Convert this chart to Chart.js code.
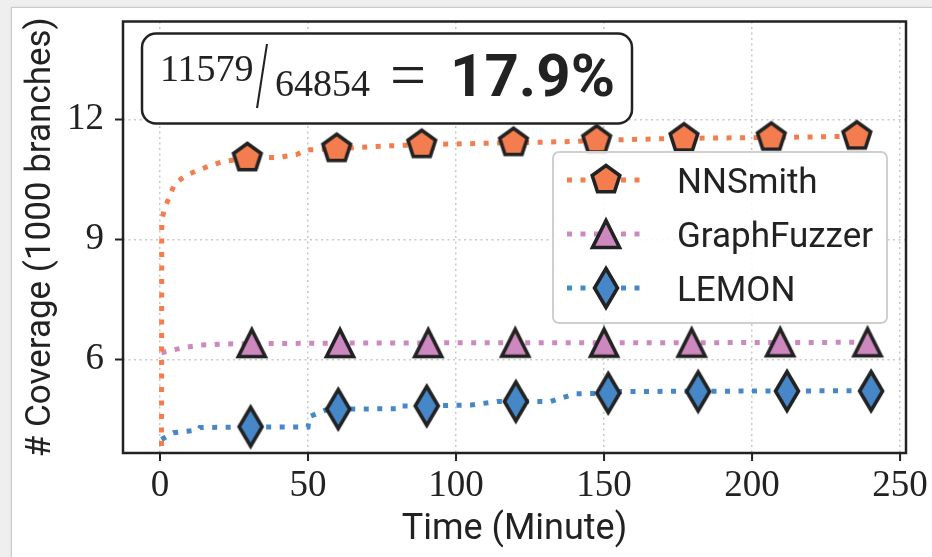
<!DOCTYPE html>
<html>
<head>
<meta charset="utf-8">
<script src="https://cdn.jsdelivr.net/npm/chart.js@4.4.1/dist/chart.umd.min.js"></script>
<style>
  html, body { margin: 0; padding: 0; }
  body { width: 932px; height: 557px; background: #efefef; position: relative; overflow: hidden; }
  .panel { position: absolute; left: 11px; top: 7px; right: -2px; bottom: -2px; background: #fff; border: 1px solid #c9c9c9; box-shadow: 0 0 3px rgba(0,0,0,0.08); }
  .wrap { position: absolute; left: 0; top: 0; width: 932px; height: 557px; }
</style>
</head>
<body>
<div class="panel"></div>
<div class="wrap"><canvas id="chart" width="932" height="557"></canvas></div>
<script>
// Series names / colours
const seriesNames = ['NNSmith', 'GraphFuzzer', 'LEMON'];
const seriesColors = ['#f47d4f', '#cd89bf', '#4687c7'];

// Coverage curves (time in minutes, coverage in 1000 branches)
const nnsmithTime = [0.5, 0.6, 1.7, 3.4, 5, 9, 13, 17.5, 21.4, 29.5, 39.4, 46, 49.5, 59.7, 76.6, 88.4, 119.4, 140, 147.5, 177, 206.5, 235.4, 240];
const nnsmithCov  = [3.5, 9.5, 9.8, 10.11, 10.4, 10.61, 10.74, 10.86, 10.95, 11.04, 11.05, 11.12, 11.24, 11.27, 11.34, 11.37, 11.42, 11.45, 11.48, 11.53, 11.55, 11.58, 11.579];
const nnsmithMarkTime = [29.5, 59.7, 88.4, 119.4, 147.5, 177, 206.5, 235.4];
const nnsmithMarkCov  = [11.04, 11.27, 11.37, 11.42, 11.48, 11.53, 11.55, 11.58];

const graphfuzzerTime = [0.5, 4.5, 9, 13.5, 22.5, 60, 120, 180, 239];
const graphfuzzerCov  = [6.17, 6.24, 6.31, 6.36, 6.39, 6.41, 6.42, 6.42, 6.43];
const graphfuzzerMarkTime = [31, 60.8, 90.6, 120, 150, 179.6, 209.5, 239];
const graphfuzzerMarkCov  = [6.41, 6.41, 6.41, 6.42, 6.42, 6.42, 6.43, 6.43];

const lemonTime = [0.5, 4.5, 13, 13.5, 30.6, 50, 50.5, 56, 60.2, 81, 81.5, 90.1, 105, 114, 120.2, 132, 135.7, 140, 151.4, 155, 241];
const lemonCov  = [4.0, 4.17, 4.24, 4.3, 4.31, 4.31, 4.57, 4.74, 4.76, 4.77, 4.84, 4.84, 4.86, 4.95, 4.95, 4.95, 5.04, 5.14, 5.16, 5.2, 5.22];
const lemonMarkTime = [30.6, 60.2, 90.1, 120.2, 151.4, 181.8, 211.8, 240.2];
const lemonMarkCov  = [4.32, 4.76, 4.84, 4.95, 5.16, 5.2, 5.21, 5.21];

// Axis ticks
const xTicks = [0, 50, 100, 150, 200, 250];
const yTicks = [6, 9, 12];

// Annotation numbers
const coveredBranches = 11579;
const totalBranches = 64854;

const INK = '#222222';

// Marker glyphs drawn on small canvases
function makeMarker(shape, fill) {
  const c = document.createElement('canvas');
  const g = c.getContext('2d');
  const pts = [];
  if (shape === 'pentagon') {
    c.width = 40; c.height = 40;
    for (let k = 0; k < 5; k++) {
      const a = -Math.PI / 2 + k * 2 * Math.PI / 5;
      pts.push([20 + 14.5 * Math.cos(a), 20 + 14.5 * Math.sin(a)]);
    }
  } else if (shape === 'triangle') {
    c.width = 40; c.height = 40;
    pts.push([20, 20 - 13.5], [20 - 13.5, 20 + 13.5], [20 + 13.5, 20 + 13.5]);
  } else {
    c.width = 32; c.height = 52;
    pts.push([16, 26 - 19.5], [16 + 11.5, 26], [16, 26 + 19.5], [16 - 11.5, 26]);
  }
  g.beginPath();
  pts.forEach((p, k) => k ? g.lineTo(p[0], p[1]) : g.moveTo(p[0], p[1]));
  g.closePath();
  g.fillStyle = fill;
  g.fill();
  g.lineWidth = 3.6;
  g.lineJoin = 'miter';
  g.strokeStyle = INK;
  g.stroke();
  return c;
}

const markerImgs = [
  makeMarker('pentagon', seriesColors[0]),
  makeMarker('triangle', seriesColors[1]),
  makeMarker('diamond', seriesColors[2])
];

const toPoints = (xs, ys) => xs.map((x, k) => ({ x: x, y: ys[k] }));
const lineDash = [5, 8.5];

function lineSet(i, xs, ys) {
  return {
    label: seriesNames[i],
    data: toPoints(xs, ys),
    showLine: true,
    borderColor: seriesColors[i],
    borderWidth: 5,
    borderDash: lineDash,
    borderCapStyle: 'butt',
    pointRadius: 0,
    pointHoverRadius: 0,
    tension: 0,
    order: 2
  };
}

function markSet(i, xs, ys) {
  return {
    label: seriesNames[i] + ' marker',
    data: toPoints(xs, ys),
    showLine: false,
    pointStyle: markerImgs[i],
    pointRadius: 15,
    pointHoverRadius: 15,
    order: 1
  };
}

// no extra padding from tick label overhang
function fixPadding(axis) {
  axis.paddingLeft = 0;
  axis.paddingRight = 0;
  axis.paddingTop = 0;
  axis.paddingBottom = 0;
}

// Annotation box, legend box, frame and tick marks
const decorPlugin = {
  id: 'decor',
  beforeDatasetsDraw(chart) {
    const ctx = chart.ctx;
    const a = chart.chartArea;
    const bx = a.left + 19, by = a.top + 12;
    ctx.save();
    ctx.beginPath();
    ctx.roundRect(bx, by, 490, 90, 14);
    ctx.fillStyle = '#fff';
    ctx.fill();
    ctx.lineWidth = 2.5;
    ctx.strokeStyle = INK;
    ctx.stroke();

    ctx.fillStyle = INK;
    ctx.textAlign = 'left';
    ctx.textBaseline = 'alphabetic';
    ctx.font = '38px "Liberation Serif"';
    ctx.fillText(String(coveredBranches), bx + 18, by + 47);
    ctx.fillText(String(totalBranches), bx + 133, by + 62);

    ctx.save();
    ctx.translate(bx + 120, by + 48);
    ctx.scale(0.45, 1);
    ctx.font = '96px "Liberation Serif"';
    ctx.textAlign = 'center';
    ctx.textBaseline = 'middle';
    ctx.fillText('/', 0, 0);
    ctx.restore();

    ctx.font = '64px "Liberation Serif"';
    ctx.textAlign = 'left';
    ctx.fillText('=', bx + 248, by + 62);

    const pct = (coveredBranches / totalBranches * 100).toFixed(1) + '%';
    ctx.font = 'bold 60px Roboto';
    ctx.fillText(pct, bx + 308, by + 62);
    ctx.restore();
  },
  afterDatasetsDraw(chart) {
    const ctx = chart.ctx;
    const lx = 553, ly = 152, lw = 334, lh = 171;
    ctx.save();
    ctx.beginPath();
    ctx.roundRect(lx, ly, lw, lh, 6);
    ctx.fillStyle = 'rgba(255,255,255,0.85)';
    ctx.fill();
    ctx.lineWidth = 2;
    ctx.strokeStyle = '#cfcfcf';
    ctx.stroke();

    const rows = [180, 234, 288];
    seriesNames.forEach((name, i) => {
      const y = rows[i];
      ctx.save();
      ctx.beginPath();
      ctx.setLineDash(lineDash);
      ctx.lineWidth = 5;
      ctx.strokeStyle = seriesColors[i];
      ctx.moveTo(lx + 14, y);
      ctx.lineTo(lx + 88, y);
      ctx.stroke();
      ctx.restore();
      const img = markerImgs[i];
      ctx.drawImage(img, lx + 53 - img.width / 2, y - img.height / 2);
      ctx.fillStyle = INK;
      ctx.font = '35px Roboto';
      ctx.textAlign = 'left';
      ctx.textBaseline = 'alphabetic';
      ctx.fillText(name, lx + 124, y + 13);
    });
    ctx.restore();
  },
  afterDraw(chart) {
    const ctx = chart.ctx;
    const a = chart.chartArea;
    const xs = chart.scales.x, ys = chart.scales.y;
    ctx.save();
    ctx.strokeStyle = INK;
    ctx.lineWidth = 2;
    ctx.beginPath();
    xTicks.forEach(v => {
      const px = xs.getPixelForValue(v);
      ctx.moveTo(px, a.bottom);
      ctx.lineTo(px, a.bottom + 8);
    });
    yTicks.forEach(v => {
      const py = ys.getPixelForValue(v);
      ctx.moveTo(a.left, py);
      ctx.lineTo(a.left - 8, py);
    });
    ctx.stroke();
    ctx.lineWidth = 2.5;
    ctx.strokeRect(a.left, a.top, a.right - a.left, a.bottom - a.top);
    ctx.restore();
  }
};

const ctx = document.getElementById('chart').getContext('2d');
new Chart(ctx, {
  type: 'scatter',
  data: {
    datasets: [
      lineSet(0, nnsmithTime, nnsmithCov),
      lineSet(1, graphfuzzerTime, graphfuzzerCov),
      lineSet(2, lemonTime, lemonCov),
      markSet(0, nnsmithMarkTime, nnsmithMarkCov),
      markSet(1, graphfuzzerMarkTime, graphfuzzerMarkCov),
      markSet(2, lemonMarkTime, lemonMarkCov)
    ]
  },
  options: {
    responsive: false,
    animation: false,
    events: [],
    layout: { padding: { top: 21.5, right: 26, left: 0, bottom: 0 } },
    scales: {
      x: {
        type: 'linear',
        min: -12.5,
        max: 252,
        afterBuildTicks: axis => { axis.ticks = xTicks.map(v => ({ value: v })); },
        afterFit: axis => { axis.height = 104; fixPadding(axis); },
        grid: { color: '#c8c8c8', lineWidth: 1.5, drawTicks: false },
        border: { display: false, dash: [2, 3.5] },
        ticks: {
          color: INK,
          padding: 11,
          maxRotation: 0,
          font: { family: 'Liberation Serif', size: 37 }
        },
        title: {
          display: true,
          text: 'Time (Minute)',
          color: INK,
          font: { family: 'Roboto', size: 36 },
          padding: { top: 0, bottom: 5 }
        }
      },
      y: {
        type: 'linear',
        min: 3.6625,
        max: 14.45,
        afterBuildTicks: axis => { axis.ticks = yTicks.map(v => ({ value: v })); },
        afterFit: axis => { axis.width = 123; fixPadding(axis); },
        grid: { color: '#c8c8c8', lineWidth: 1.5, drawTicks: false },
        border: { display: false, dash: [2, 3.5] },
        ticks: {
          color: INK,
          padding: 19,
          font: { family: 'Liberation Serif', size: 37 }
        },
        title: {
          display: true,
          text: '# Coverage (1000 branches)',
          color: INK,
          font: { family: 'Roboto', size: 35 },
          padding: { top: 20, bottom: 0 }
        }
      }
    },
    plugins: {
      legend: { display: false },
      tooltip: { enabled: false }
    }
  },
  plugins: [decorPlugin]
});
</script>
</body>
</html>
